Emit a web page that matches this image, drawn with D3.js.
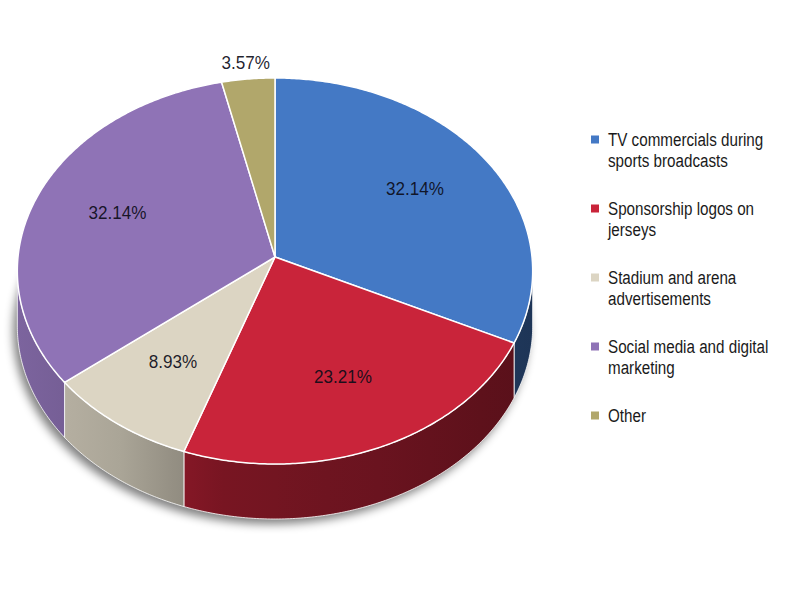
<!DOCTYPE html>
<html>
<head>
<meta charset="utf-8">
<script src="https://cdn.jsdelivr.net/npm/d3@7"></script>
<style>
  body { margin: 0; background: #fff; }
  svg { display: block; font-family: "Liberation Sans", Arial, sans-serif; }
</style>
</head>
<body>
<svg id="chart" width="804" height="595"></svg>
<script>
var categories = ["TV commercials during sports broadcasts", "Sponsorship logos on jerseys",
                  "Stadium and arena advertisements", "Social media and digital marketing", "Other"]
var shares = [32.14, 23.21, 8.93, 32.14, 3.57]
var faceColors = ["#4479c5", "#c9243a", "#dcd5c3", "#8f73b6", "#b1a76b"]

var dims = { width: 804, height: 595 }
// tilted disc: centre of the top face, half sizes, perspective, thickness
var pie3d = { cx: 275, cy: 257, rx: 257, ry: 192, persp: 0.0725, depth: 55 }

var svg = d3.select("#chart")
var defs = svg.append("defs")

var color = d3.scaleOrdinal().domain(categories).range(faceColors)
var fmt = d3.format(".2f")

var pie = d3.pie().sort(null).value(d => d.value)
var arcs = pie(categories.map((c, i) => ({ name: c, value: shares[i] })))

// project an angle (0 = top, clockwise) and radius fraction onto the tilted disc
function proj(a, r, dy) {
    var c = Math.cos(a), s = Math.sin(a)
    var w = 1 + pie3d.persp * r * c
    return [pie3d.cx + pie3d.rx * r * s / w,
            pie3d.cy - pie3d.ry * r * c / w + (dy || 0)]
}
function rimPoints(a0, a1, dy) {
    var n = Math.max(2, Math.ceil(Math.abs(a1 - a0) / 0.01))
    return d3.range(n + 1).map(i => proj(a0 + (a1 - a0) * i / n, 1, dy))
}
var line = d3.line()

// shadow under the disc
var blur = defs.append("filter").attr("id", "shadow")
            .attr("x", "-20%").attr("y", "-20%").attr("width", "140%").attr("height", "140%")
blur.append("feGaussianBlur").attr("stdDeviation", 5)

svg.append("path")
   .attr("d", line(rimPoints(0, 2 * Math.PI, pie3d.depth)) + "Z")
   .attr("transform", "translate(-4,5)")
   .attr("fill", "#000")
   .attr("opacity", 0.5)
   .attr("filter", "url(#shadow)")

// side walls, only the front part between the two horizontal extremes
var aRight = Math.acos(-pie3d.persp)
var aLeft = 2 * Math.PI - aRight
var xLeft = proj(aLeft, 1)[0], xRight = proj(aRight, 1)[0]

// light falls from the left: how much darker the wall gets along x
var shade = d3.scaleLinear().domain([0, 0.25, 0.35, 0.7, 1]).range([0.4, 0.8, 1.4, 1.8, 2.3])

arcs.forEach(function(d, i) {
    var g = defs.append("linearGradient").attr("id", "wall" + i)
                .attr("gradientUnits", "userSpaceOnUse")
                .attr("x1", xLeft).attr("x2", xRight).attr("y1", 0).attr("y2", 0)
    d3.range(11).forEach(function(j) {
        var t = j / 10
        g.append("stop").attr("offset", t)
         .attr("stop-color", d3.color(color(d.data.name)).darker(shade(t)).formatHex())
    })
})

var walls = svg.append("g")
arcs.forEach(function(d, i) {
    var a0 = Math.max(d.startAngle, aRight), a1 = Math.min(d.endAngle, aLeft)
    if (a1 <= a0) return
    var pts = rimPoints(a0, a1, 0).concat(rimPoints(a1, a0, pie3d.depth))
    walls.append("path")
         .attr("d", line(pts) + "Z")
         .attr("fill", "url(#wall" + i + ")")
         .attr("stroke", "#fff")
         .attr("stroke-width", 1)
         .attr("stroke-opacity", 0.8)
})

// top faces
svg.append("g")
   .selectAll(".slice")
   .data(arcs)
   .enter()
   .append("path")
   .attr("class", "slice")
   .attr("d", d => line([[pie3d.cx, pie3d.cy]].concat(rimPoints(d.startAngle, d.endAngle, 0))) + "Z")
   .attr("fill", d => color(d.data.name))
   .attr("stroke", "#fff")
   .attr("stroke-width", 1.5)
   .attr("stroke-linejoin", "round")

// value labels
svg.append("g")
   .selectAll(".value")
   .data(arcs)
   .enter()
   .append("text")
   .attr("class", "value")
   .attr("transform", function(d) {
        var mid = (d.startAngle + d.endAngle) / 2
        var small = d.endAngle - d.startAngle < 0.3
        var p = proj(mid, small ? 1.1 : 0.66)
        return "translate(" + p[0] + "," + (p[1] - (small ? 0 : 3)) + ") scale(0.9,1)"
   })
   .attr("text-anchor", "middle")
   .attr("dy", "0.35em")
   .attr("font-size", 19)
   .attr("fill", "#0c0c18")
   .attr("fill-opacity", 0.92)
   .text(d => fmt(d.data.value) + "%")

// legend
var legend = { x: 591, top: 146, step: 69, lineH: 21.5, box: 8, textX: 608, maxW: 175, sx: 0.8 }
var items = svg.append("g")
               .selectAll(".legend")
               .data(categories)
               .enter()
               .append("g")
               .attr("class", "legend")
               .attr("transform", (d, i) => "translate(0," + (legend.top + i * legend.step) + ")")

items.append("rect")
     .attr("x", legend.x)
     .attr("y", -10.5)
     .attr("width", legend.box)
     .attr("height", legend.box)
     .attr("fill", d => color(d))

items.each(function(name) {
    var g = d3.select(this)
    var t = g.append("text")
             .attr("transform", "translate(" + legend.textX + ",0) scale(" + legend.sx + ",1)")
             .attr("font-size", 19)
             .attr("fill", "#1a1a1a")
    var words = name.split(" "), cur = [], lineNo = 0
    var span = t.append("tspan").attr("x", 0).attr("y", 0)
    words.forEach(function(w) {
        cur.push(w)
        span.text(cur.join(" "))
        if (span.node().getComputedTextLength() * legend.sx > legend.maxW && cur.length > 1) {
            cur.pop()
            span.text(cur.join(" "))
            cur = [w]
            lineNo++
            span = t.append("tspan").attr("x", 0).attr("y", lineNo * legend.lineH).text(w)
        }
    })
})
</script>
</body>
</html>
